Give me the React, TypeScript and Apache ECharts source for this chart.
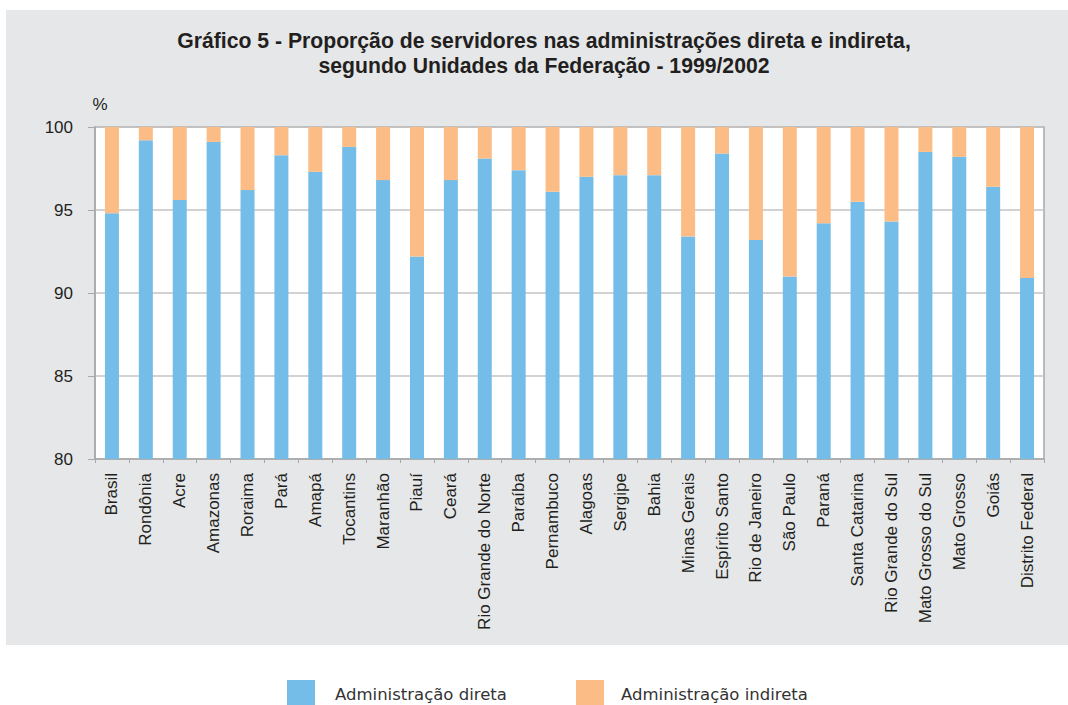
import React, { useEffect, useRef } from "react";
import * as echarts from "echarts";

const categories = [
  "Brasil", "Rondônia", "Acre", "Amazonas", "Roraima", "Pará", "Amapá", "Tocantins",
  "Maranhão", "Piauí", "Ceará", "Rio Grande do Norte", "Paraíba", "Pernambuco",
  "Alagoas", "Sergipe", "Bahia", "Minas Gerais", "Espírito Santo", "Rio de Janeiro",
  "São Paulo", "Paraná", "Santa Catarina", "Rio Grande do Sul", "Mato Grosso do Sul",
  "Mato Grosso", "Goiás", "Distrito Federal",
];

const direta = [
  94.8, 99.2, 95.6, 99.1, 96.2, 98.3, 97.3, 98.8, 96.8, 92.2, 96.8, 98.1, 97.4, 96.1,
  97.0, 97.1, 97.1, 93.4, 98.4, 93.2, 91.0, 94.2, 95.5, 94.3, 98.5, 98.2, 96.4, 90.9,
];

const indireta = [
  5.2, 0.8, 4.4, 0.9, 3.8, 1.7, 2.7, 1.2, 3.2, 7.8, 3.2, 1.9, 2.6, 3.9,
  3.0, 2.9, 2.9, 6.6, 1.6, 6.8, 9.0, 5.8, 4.5, 5.7, 1.5, 1.8, 3.6, 9.1,
];

const yTicks = { min: 80, max: 100, interval: 5 };

const titleText =
  "Gráfico 5 - Proporção de servidores nas administrações direta e indireta,\nsegundo Unidades da Federação - 1999/2002";
const seriesNames = ["Administração direta", "Administração indireta"];

const BLUE = "#74bde8";
const ORANGE = "#fbbc85";
const BG = "#e6e7e9";
const TEXT = "#231f20";

export default function App() {
  const ref = useRef<HTMLDivElement>(null);

  useEffect(() => {
    if (!ref.current) return;
    const chart = echarts.init(ref.current, undefined, { renderer: "svg" });
    const legendText = {
      fontFamily: "'DejaVu Sans', sans-serif",
      fontSize: 16.5,
      color: "#333333",
    };
    chart.setOption({
      animation: false,
      backgroundColor: BG,
      title: {
        text: titleText,
        left: 544,
        top: 28,
        padding: 0,
        textAlign: "center",
        textStyle: {
          fontFamily: "'Liberation Sans', Arial, sans-serif",
          fontWeight: "bold",
          fontSize: 21.2,
          lineHeight: 25,
          color: TEXT,
        },
      },
      graphic: [
        { type: "rect", shape: { x: 0, y: 0, width: 1068, height: 10 }, style: { fill: "#fff" }, silent: true },
        { type: "rect", shape: { x: 0, y: 0, width: 6, height: 705 }, style: { fill: "#fff" }, silent: true },
        { type: "rect", shape: { x: 0, y: 645, width: 1068, height: 60 }, style: { fill: "#fff" }, silent: true },
      ],
      legend: [
        {
          data: [seriesNames[0]],
          left: 287,
          top: 680,
          itemWidth: 28,
          itemHeight: 28,
          icon: "rect",
          padding: 0,
          textStyle: { ...legendText, padding: [0, 0, 0, 15] },
        },
        {
          data: [seriesNames[1]],
          left: 576,
          top: 680,
          itemWidth: 28,
          itemHeight: 28,
          icon: "rect",
          padding: 0,
          textStyle: { ...legendText, padding: [0, 0, 0, 12] },
        },
      ],
      grid: {
        left: 95,
        right: 24,
        top: 127,
        bottom: 246,
        show: true,
        backgroundColor: "#ffffff",
        borderColor: "#a9a9a9",
        borderWidth: 1.5,
      },
      xAxis: {
        type: "category",
        data: categories,
        axisLine: { lineStyle: { color: "#a9a9a9", width: 1.5 } },
        axisTick: { show: true, length: 4, lineStyle: { color: "#a9a9a9" } },
        axisLabel: {
          interval: 0,
          rotate: 90,
          margin: 14,
          fontFamily: "'Liberation Sans', Arial, sans-serif",
          fontSize: 17,
          color: TEXT,
        },
      },
      yAxis: {
        type: "value",
        min: yTicks.min,
        max: yTicks.max,
        interval: yTicks.interval,
        name: "%",
        nameLocation: "end",
        nameGap: 14,
        nameTextStyle: {
          fontFamily: "'Liberation Sans', Arial, sans-serif",
          fontSize: 17,
          color: TEXT,
          padding: [0, 0, 0, 10],
        },
        axisLine: { show: true, lineStyle: { color: "#a9a9a9", width: 1.5 } },
        axisTick: { show: true, length: 7, lineStyle: { color: "#a9a9a9" } },
        axisLabel: {
          margin: 22,
          fontFamily: "'Liberation Sans', Arial, sans-serif",
          fontSize: 17,
          color: TEXT,
        },
        splitLine: { show: true, lineStyle: { color: "#c3c3c3", width: 1.5 } },
      },
      series: [
        {
          name: seriesNames[0],
          type: "bar",
          stack: "total",
          data: direta,
          barWidth: 14,
          itemStyle: { color: BLUE },
        },
        {
          name: seriesNames[1],
          type: "bar",
          stack: "total",
          data: indireta,
          barWidth: 14,
          itemStyle: { color: ORANGE },
        },
      ],
    });
    return () => chart.dispose();
  }, []);

  return (
    <div
      ref={ref}
      style={{ position: "fixed", left: 0, top: 0, width: 1068, height: 705 }}
    />
  );
}
